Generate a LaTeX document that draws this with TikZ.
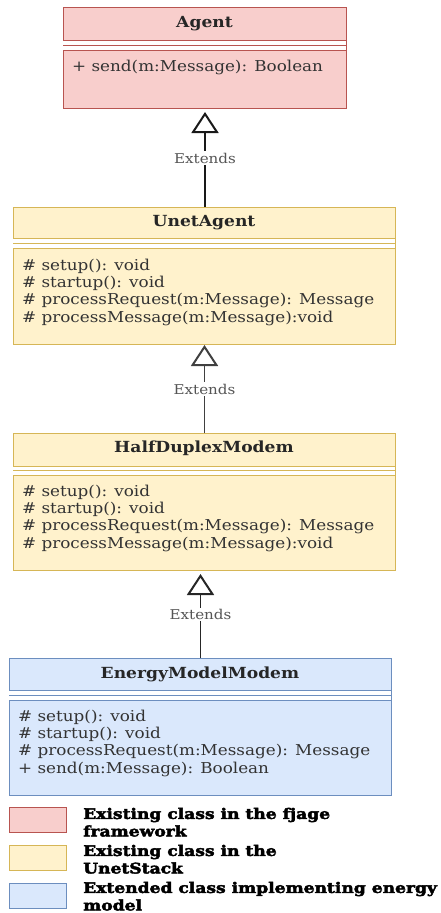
\documentclass[tikz,border=0pt]{standalone}
\usepackage{fontspec}
\setmainfont{DejaVu Serif}[FakeStretch=1.12]
\newfontfamily\legfont{DejaVu Serif Bold}[FakeStretch=1.18, FakeBold=3]
\usetikzlibrary{arrows.meta}
\definecolor{rF}{HTML}{F8CECC}\definecolor{rS}{HTML}{B85450}
\definecolor{yF}{HTML}{FFF2CC}\definecolor{yS}{HTML}{D6B656}
\definecolor{bF}{HTML}{DAE8FC}\definecolor{bS}{HTML}{6C8EBF}
\definecolor{lblgray}{HTML}{555555}
\begin{document}
\begin{tikzpicture}[x=1pt,y=-1pt,
  box/.style={draw, line width=1pt, anchor=north west, inner sep=0pt},
  ttl/.style={font=\fontsize{15.3}{18}\bfseries\selectfont, text=black!85, inner sep=0pt},
  meth/.style={font=\fontsize{15}{18}\selectfont, text=black!80, anchor=west, inner sep=0pt},
  lbl/.style={font=\fontsize{13.5}{15}\selectfont, text=lblgray, fill=white, inner sep=1.5pt},
  leg/.style={font=\fontsize{14.5}{16}\legfont, anchor=west, inner sep=0pt},
  legbox/.style={draw, line width=1pt, anchor=north west, inner sep=0pt, minimum width=57pt, minimum height=25pt},
  tip/.style={-{Triangle[fill=white, width=27pt, length=21pt, line width=2pt]}},
]
\useasboundingbox (0,0) rectangle (441,913);

% Agent
\node[box, fill=rF, draw=rS, minimum width=283pt, minimum height=101pt] (ag) at (63,7) {};
\fill[white] (63,40) rectangle (346,50);
\draw[rS, line width=1pt] (63,40) -- (346,40) (63,45.5) -- (346,45.5) (63,50) -- (346,50);
\node[ttl] (agt) at (204.5,24) {Agent};
\node[meth] (ag1) at (72,67) {+ send(m:Message): Boolean};

% UnetAgent
\node[box, fill=yF, draw=yS, minimum width=382pt, minimum height=137pt] (ua) at (13,207) {};
\fill[white] (13,238) rectangle (395,248);
\draw[yS, line width=1pt] (13,238) -- (395,238) (13,243.5) -- (395,243.5) (13,248) -- (395,248);
\node[ttl] (uat) at (204,223) {UnetAgent};
\node[meth] (ua1) at (22,266) {\# setup(): void};
\node[meth] (ua2) at (22,283.3) {\# startup(): void};
\node[meth] (ua3) at (22,300.6) {\# processRequest(m:Message): Message};
\node[meth] (ua4) at (22,318) {\# processMessage(m:Message):void};

% HalfDuplexModem
\node[box, fill=yF, draw=yS, minimum width=382pt, minimum height=137pt] (hd) at (13,433) {};
\fill[white] (13,466) rectangle (395,475);
\draw[yS, line width=1pt] (13,466) -- (395,466) (13,470.8) -- (395,470.8) (13,475) -- (395,475);
\node[ttl] (hdt) at (204,448) {HalfDuplexModem};
\node[meth] (hd1) at (22,492) {\# setup(): void};
\node[meth] (hd2) at (22,509.3) {\# startup(): void};
\node[meth] (hd3) at (22,526.6) {\# processRequest(m:Message): Message};
\node[meth] (hd4) at (22,544) {\# processMessage(m:Message):void};

% EnergyModelModem
\node[box, fill=bF, draw=bS, minimum width=382pt, minimum height=137pt] (em) at (9,658) {};
\fill[white] (9,690) rectangle (391,700);
\draw[bS, line width=1pt] (9,690) -- (391,690) (9,695.8) -- (391,695.8) (9,700) -- (391,700);
\node[ttl] (emt) at (200,674) {EnergyModelModem};
\node[meth] (em1) at (18,717) {\# setup(): void};
\node[meth] (em2) at (18,734.3) {\# startup(): void};
\node[meth] (em3) at (18,751.6) {\# processRequest(m:Message): Message};
\node[meth] (em4) at (18,769) {+ send(m:Message): Boolean};

% Connectors
\draw[tip, line width=2pt, black!90, shorten >=3pt] (ua.north -| ag.south) -- node[lbl] (l1) {Extends} (ag.south);
\draw[tip, line width=1.2pt, black!75] (hd.north) -- node[lbl] (l2) {Extends} (ua.south);
\coordinate (c3) at (em.north |- hd.south);
\draw[tip, line width=1.5pt, black!85, shorten >=3pt] (em.north) -- node[lbl] (l3) {Extends} (c3);

% Legend
\node[legbox, fill=rF, draw=rS] (lg1) at (9,807) {};
\node[legbox, fill=yF, draw=yS] (lg2) at (9,845) {};
\node[legbox, fill=bF, draw=bS] (lg3) at (9,883) {};
\node[leg] (lt1a) at (83,815) {Existing class in the fjage};
\node[leg] (lt1b) at (83,831) {framework};
\node[leg] (lt2a) at (83,852) {Existing class in the};
\node[leg] (lt2b) at (83,868) {UnetStack};
\node[leg] (lt3a) at (83,889) {Extended class implementing energy};
\node[leg] (lt3b) at (83,905) {model};
\end{tikzpicture}
\end{document}
